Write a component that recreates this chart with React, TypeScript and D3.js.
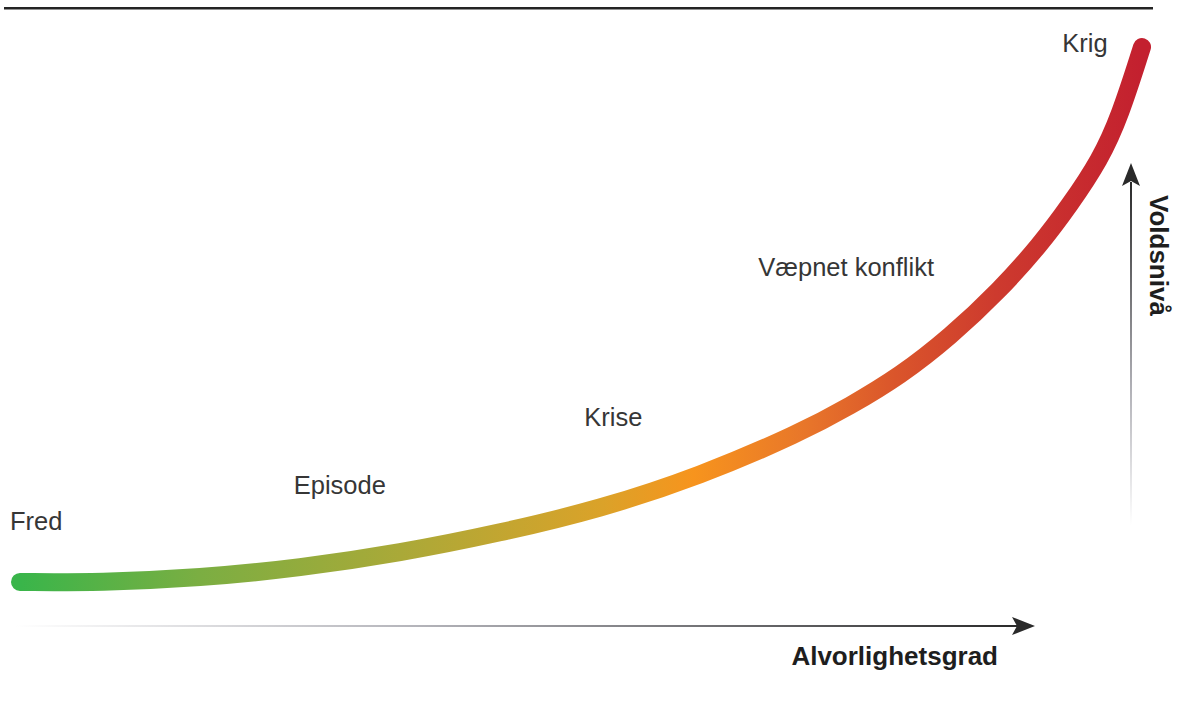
import React, { useEffect, useRef } from 'react';
import * as d3 from 'd3';

// Escalation curve: severity (x) vs. violence level (y), both 0-100
const SEVERITY = [0, 7.13, 16.04, 24.96, 33.87, 42.78, 51.69, 60.61, 69.52, 73.98, 78.43, 82.89, 87.34, 90.91, 93.58, 96.26, 98.04, 100];
const VIOLENCE = [0, -0.09, 0.75, 2.62, 5.42, 9.16, 13.64, 19.81, 27.85, 32.9, 38.5, 45.8, 54.6, 63.0, 70.5, 78.9, 87.1, 100];

// Stage labels, placed in the same data units
const STAGE_NAMES = ['Fred', 'Episode', 'Krise', 'Væpnet konflikt', 'Krig'];
const STAGE_SEVERITY = [-0.9, 24.4, 50.3, 65.8, 92.9];
const STAGE_VIOLENCE = [9.7, 16.4, 29.2, 57.2, 99.1];

const X_AXIS_LABEL = 'Alvorlighetsgrad';
const Y_AXIS_LABEL = 'Voldsnivå';

export default function App() {
    const svgRef = useRef<SVGSVGElement>(null);

    useEffect(() => {
        if (!svgRef.current) return;

        const width = 1180;
        const height = 709;
        const svg = d3.select(svgRef.current);
        svg.selectAll('*').remove();
        svg.attr('viewBox', `0 0 ${width} ${height}`);

        const x = d3.scaleLinear().domain([0, 100]).range([20, 1142]);
        const y = d3.scaleLinear().domain([0, 100]).range([582, 47]);

        const defs = svg.append('defs');

        // curve colour runs green -> orange -> red from left to right
        const curveGrad = defs.append('linearGradient')
            .attr('id', 'curve-grad')
            .attr('gradientUnits', 'userSpaceOnUse')
            .attr('x1', x(0)).attr('x2', x(100))
            .attr('y1', 0).attr('y2', 0);
        [
            [0, '#39b54a'],
            [0.16, '#7bae42'],
            [0.34, '#aaa938'],
            [0.52, '#dba229'],
            [0.6, '#f7941d'],
            [0.7, '#e8762a'],
            [0.78, '#da552b'],
            [0.87, '#cd3a2e'],
            [1, '#c3202f'],
        ].forEach(([o, c]) => curveGrad.append('stop').attr('offset', o as number).attr('stop-color', c as string));

        const hGrad = defs.append('linearGradient')
            .attr('id', 'h-grad')
            .attr('gradientUnits', 'userSpaceOnUse')
            .attr('x1', 15).attr('x2', 1020).attr('y1', 0).attr('y2', 0);
        hGrad.append('stop').attr('offset', 0).attr('stop-color', '#ffffff');
        hGrad.append('stop').attr('offset', 0.4).attr('stop-color', '#b4b4ba');
        hGrad.append('stop').attr('offset', 1).attr('stop-color', '#2a2a2a');

        const vGrad = defs.append('linearGradient')
            .attr('id', 'v-grad')
            .attr('gradientUnits', 'userSpaceOnUse')
            .attr('x1', 0).attr('x2', 0).attr('y1', 525).attr('y2', 181);
        vGrad.append('stop').attr('offset', 0).attr('stop-color', '#ffffff');
        vGrad.append('stop').attr('offset', 0.4).attr('stop-color', '#b0b0b6');
        vGrad.append('stop').attr('offset', 1).attr('stop-color', '#2a2a2a');

        // top rule
        svg.append('line')
            .attr('x1', 4).attr('x2', 1153)
            .attr('y1', 8.3).attr('y2', 8.3)
            .attr('stroke', '#242424')
            .attr('stroke-width', 2.6);

        // escalation curve (basis spline to smooth the read-off points)
        const line = d3.line<number>()
            .x((d, i) => x(SEVERITY[i]))
            .y(d => y(d))
            .curve(d3.curveBasis);

        svg.append('path')
            .datum(VIOLENCE)
            .attr('d', line)
            .attr('fill', 'none')
            .attr('stroke', 'url(#curve-grad)')
            .attr('stroke-width', 18)
            .attr('stroke-linecap', 'round');

        // stage labels
        svg.append('g')
            .selectAll('text')
            .data(STAGE_NAMES)
            .join('text')
            .attr('x', (d, i) => x(STAGE_SEVERITY[i]))
            .attr('y', (d, i) => y(STAGE_VIOLENCE[i]))
            .attr('fill', '#363636')
            .style('font-family', '"Liberation Sans", Arial, sans-serif')
            .style('font-size', '25.5px')
            .text(d => d);

        // horizontal axis arrow
        svg.append('line')
            .attr('x1', 15).attr('x2', 1018)
            .attr('y1', 626).attr('y2', 626)
            .attr('stroke', 'url(#h-grad)')
            .attr('stroke-width', 2);
        svg.append('path')
            .attr('d', 'M1035,626 L1012,617 L1017,626 L1012,635 Z')
            .attr('fill', '#2a2a2a');
        svg.append('text')
            .attr('x', 998).attr('y', 665)
            .attr('text-anchor', 'end')
            .attr('fill', '#1e1e1e')
            .style('font-family', '"Liberation Sans", Arial, sans-serif')
            .style('font-size', '26px')
            .style('font-weight', 'bold')
            .text(X_AXIS_LABEL);

        // vertical axis arrow
        svg.append('line')
            .attr('x1', 1131).attr('x2', 1131)
            .attr('y1', 525).attr('y2', 182)
            .attr('stroke', 'url(#v-grad)')
            .attr('stroke-width', 2);
        svg.append('path')
            .attr('d', 'M1131,163 L1122,186 L1131,181 L1140,186 Z')
            .attr('fill', '#2a2a2a');
        svg.append('text')
            .attr('transform', 'translate(1150,195) rotate(90)')
            .attr('fill', '#1e1e1e')
            .style('font-family', '"Liberation Sans", Arial, sans-serif')
            .style('font-size', '26px')
            .style('font-weight', 'bold')
            .text(Y_AXIS_LABEL);
    }, []);

    return (
        <svg
            ref={svgRef}
            width={1180}
            height={709}
            style={{ position: 'absolute', left: 0, top: 0, background: '#fff' }}
        />
    );
}
